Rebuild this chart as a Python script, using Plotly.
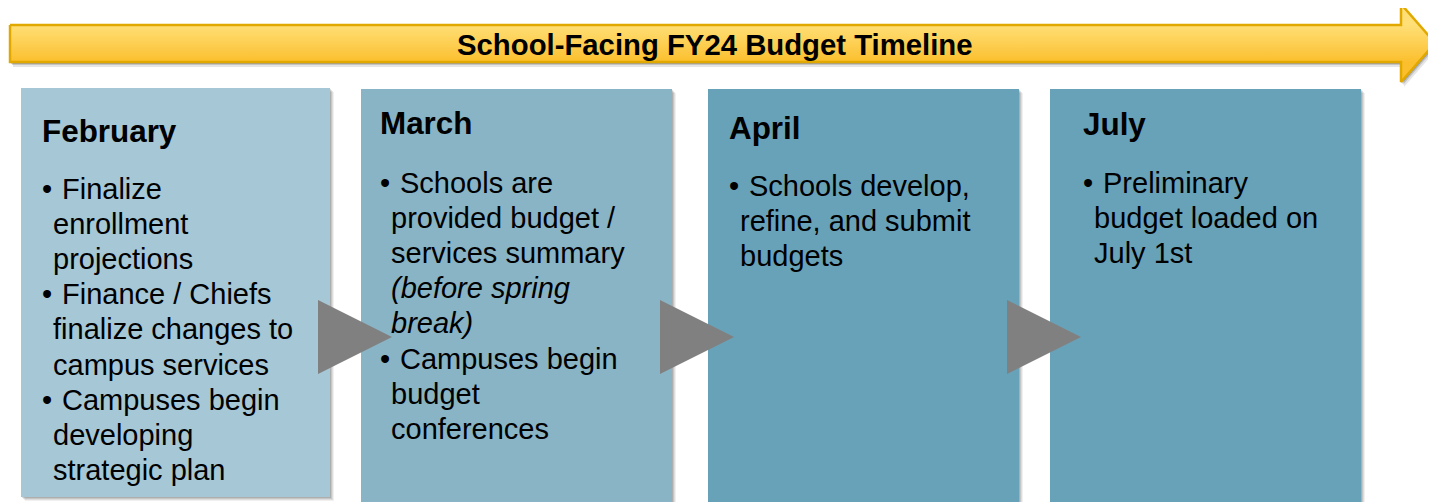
import plotly.graph_objects as go

# ---------------- data ----------------
title = "School-Facing FY24 Budget Timeline"
months = ["February", "March", "April", "July"]
bullets = [
    [["Finalize", "enrollment", "projections"],
     ["Finance / Chiefs", "finalize changes to", "campus services"],
     ["Campuses begin", "developing", "strategic plan"]],
    [["Schools are", "provided budget /", "services summary",
      "<i>(before spring</i>", "<i>break)</i>"],
     ["Campuses begin", "budget", "conferences"]],
    [["Schools develop,", "refine, and submit", "budgets"]],
    [["Preliminary", "budget loaded on", "July 1st"]],
]

# ---------------- layout / style ----------------
W, H = 1436, 502
PAGE = 8  # default body margin of the html page
box_x0 = [21, 361, 708, 1050]
box_x1 = [330, 672, 1019, 1361]
box_y0 = [88, 89, 89, 89]
box_y1 = [497, 502, 502, 502]
box_col = ["#A5C7D6", "#88B4C6", "#68A2B9", "#68A2B9"]
text_x = [39.5, 377.5, 726.5, 1080.5]
head_y = [131, 123, 128, 124]
body_y0 = [189, 183, 186, 183]
line_h = 35.1
bullet_gap = 20
indent = 11
FONT = "Arial, Liberation Sans, sans-serif"
BODY = 29
HEAD = 31.4
TITLE = 29.3

fig = go.Figure()

# arrow geometry
ax0, ax1, ay0, ay1 = 10, 1401, 25, 62
hy0, hy1, tipx, tipy = 4, 82, 1435, 43
arrow_x = [ax0, ax1, ax1, tipx, ax1, ax1, ax0, ax0]
arrow_y = [ay0, ay0, hy0, tipy, hy1, ay1, ay1, ay0]

# arrow shadow (soft)
for dx, dy, op in [(3, 5, 0.10), (2, 3, 0.15), (1, 2, 0.18)]:
    fig.add_trace(go.Scatter(
        x=[v + dx for v in arrow_x], y=[v + dy for v in arrow_y],
        fill="toself", fillcolor=f"rgba(0,0,0,{op})", mode="lines",
        line=dict(width=0), hoverinfo="skip", showlegend=False))

fig.add_trace(go.Scatter(
    x=arrow_x, y=arrow_y, fill="toself", mode="lines",
    line=dict(color="#E1A900", width=2.5),
    fillgradient=dict(type="vertical", start=ay0, stop=ay1,
                      colorscale=[[0, "#FFDF76"], [1, "#FBBF2E"]]),
    hoverinfo="skip", showlegend=False))

shapes = []
# box shadows
for i in range(4):
    for d, op in [(4, 0.06), (3, 0.08), (2, 0.10), (1, 0.12)]:
        shapes.append(dict(type="rect", xref="x", yref="y",
                           x0=box_x0[i] + d, x1=box_x1[i] + d,
                           y0=box_y0[i] + d, y1=box_y1[i] + d,
                           fillcolor=f"rgba(0,0,0,{op})", line=dict(width=0),
                           layer="above"))
    shapes.append(dict(type="rect", xref="x", yref="y",
                       x0=box_x0[i], x1=box_x1[i], y0=box_y0[i], y1=box_y1[i],
                       fillcolor=box_col[i], line=dict(width=0), layer="above"))
# triangles between boxes
for i in range(3):
    tx0 = box_x1[i] - 12
    tx1 = tx0 + 74
    shapes.append(dict(type="path", xref="x", yref="y",
                       path=f"M {tx0},300 L {tx1},337 L {tx0},374 Z",
                       fillcolor="#808080", line=dict(width=0), layer="above"))

ann = [dict(x=(ax0 + ax1) / 2 + 9, y=44, text=title, showarrow=False,
            xanchor="center", yanchor="middle",
            font=dict(family=FONT, size=TITLE, color="black", weight="bold"))]

for i, m in enumerate(months):
    ann.append(dict(x=text_x[i], y=head_y[i], text=m, showarrow=False,
                    xanchor="left", yanchor="middle",
                    font=dict(family=FONT, size=HEAD, color="black", weight="bold")))
    k = 0
    for group in bullets[i]:
        for j, line in enumerate(group):
            y = body_y0[i] + k * line_h
            if j == 0:
                ann.append(dict(x=text_x[i], y=y, text="•", showarrow=False,
                                xanchor="left", yanchor="middle",
                                font=dict(family=FONT, size=BODY, color="black")))
                ann.append(dict(x=text_x[i] + bullet_gap, y=y, text=line,
                                showarrow=False, xanchor="left", yanchor="middle",
                                font=dict(family=FONT, size=BODY, color="black")))
            else:
                ann.append(dict(x=text_x[i] + indent, y=y, text=line,
                                showarrow=False, xanchor="left", yanchor="middle",
                                font=dict(family=FONT, size=BODY, color="black")))
            k += 1

fig.update_layout(
    width=W - PAGE, height=H - PAGE, margin=dict(l=0, r=0, t=0, b=0),
    paper_bgcolor="white", plot_bgcolor="white",
    xaxis=dict(range=[PAGE, W], visible=False, fixedrange=True),
    yaxis=dict(range=[H, PAGE], visible=False, fixedrange=True),
    shapes=shapes, annotations=ann, showlegend=False,
)
fig.write_html("out.html", config={"displayModeBar": False})
